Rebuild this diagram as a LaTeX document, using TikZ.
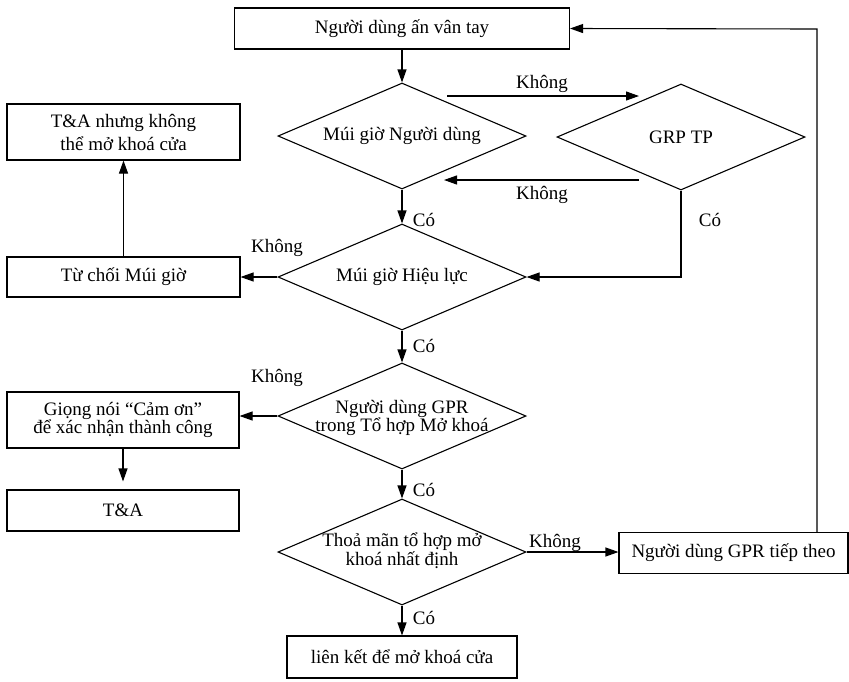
\documentclass[tikz,border=0pt]{standalone}
\usepackage{fontspec}
\setmainfont{Liberation Serif}
\usetikzlibrary{shapes.geometric,arrows.meta,calc}
\begin{document}
\begin{tikzpicture}[x=1pt,y=-1pt,
  every node/.style={font=\fontsize{19}{22}\selectfont},
  box/.style={draw, line width=1.1pt, inner sep=0pt, align=center},
  dia/.style={draw, diamond, line width=1.1pt, inner sep=0pt, minimum width=248pt, minimum height=106pt},
  lbl/.style={inner sep=0pt, align=center},
  tight/.style={font=\fontsize{19}{17}\selectfont},
  arr/.style={line width=1.1pt, -{Triangle[length=13pt,width=9pt]}},
  ln/.style={line width=1.1pt}]
\useasboundingbox (0,0) rectangle (849,681);

% boxes
\node[box, minimum width=335pt, minimum height=41pt] (top) at (402,28.5) {Người dùng ấn vân tay};
\node[box, minimum width=233pt, minimum height=56pt, font=\fontsize{19}{23}\selectfont] (tanhung) at (123.5,132) {T\&A nhưng không\\thể mở khoá cửa};
\node[box, minimum width=233pt, minimum height=40pt] (tuchoi) at (123.5,277) {Từ chối Múi giờ};
\node[box, minimum width=232pt, minimum height=56pt, tight] (giong) at (123,420) {Giọng nói “Cảm ơn”\\để xác nhận thành công};
\node[box, minimum width=232pt, minimum height=41pt] (ta) at (123,510.5) {T\&A};
\node[box, minimum width=230pt, minimum height=42pt] (lienket) at (402,657) {liên kết để mở khoá cửa};
\node[box, minimum width=229pt, minimum height=41pt] (next) at (733.5,553) {Người dùng GPR tiếp theo};

% diamonds
\node[dia] (d1) at (402,136) {};
\node[lbl] (d1t) at (d1.center) {Múi giờ Người dùng};
\node[dia] (d2) at (681,137) {};
\node[lbl] (d2t) at (d2.center) {GRP TP};
\node[dia] (d3) at (402,277) {};
\node[lbl] (d3t) at (d3.center) {Múi giờ Hiệu lực};
\node[dia] (d4) at (402,416) {};
\node[lbl, tight] (d4t) at ($(d4.center)+(0,2)$) {Người dùng GPR\\trong Tổ hợp Mở khoá};
\node[dia] (d5) at (402,552) {};
\node[lbl, tight] (d5t) at ($(d5.center)+(0,-1)$) {Thoả mãn tổ hợp mở\\khoá nhất định};

% free ends
\coordinate (u1) at (447,96);
\coordinate (u2) at (639,96);
\coordinate (w1) at (639,180);
\coordinate (w2) at (444,180);
\coordinate (r1) at (817,29);

% labels
\node[lbl] (k1) at (542,84) {Không};
\node[lbl] (k2) at (542,195) {Không};
\node[lbl] (c1) at (424,220) {Có};
\node[lbl] (c2) at (710,220) {Có};
\node[lbl] (k3) at (277,248) {Không};
\node[lbl] (c3) at (424,346) {Có};
\node[lbl] (k4) at (277,378) {Không};
\node[lbl] (c4) at (424,490) {Có};
\node[lbl] (k5) at (555,543) {Không};
\node[lbl] (c5) at (424,618) {Có};

% connectors
\draw[arr] (top.south -| d1.north) -- (d1.north);
\draw[arr] (u1) -- (u2);
\draw[arr] (w1) -- (w2);
\draw[arr] (d1.south) -- (d3.north);
\draw[arr] (d2.south) |- (d3.east);
\draw[arr] (d3.west) -- (tuchoi.east);
\draw[arr] (tuchoi.north) -- (tanhung.south);
\draw[arr] (d3.south) -- (d4.north);
\draw[arr] (d4.west) -- (d4.west -| giong.east);
\draw[arr, shorten >=8pt] (giong.south) -- (ta.north);
\draw[arr] (d4.south) -- (d5.north);
\draw[arr] (d5.east) -- (d5.east -| next.west);
\draw[arr] (d5.south) -- (lienket.north);
\draw[arr] (next.north -| r1) -- (r1) -- (top.east);
\end{tikzpicture}
\end{document}
